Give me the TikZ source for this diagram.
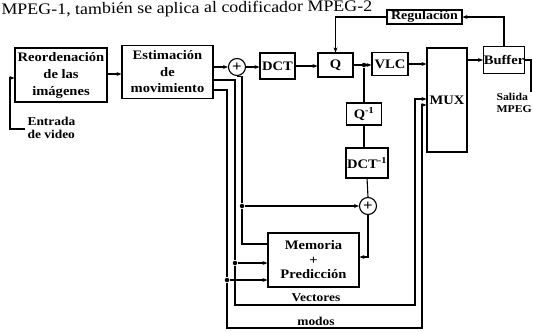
\documentclass[tikz,border=0pt]{standalone}
\usepackage{fontspec}
\setmainfont{Liberation Serif}[FakeStretch=1.12]
\usetikzlibrary{arrows.meta,calc}
\begin{document}
\begin{tikzpicture}[x=1pt,y=-1pt,
  line width=1.1pt,
  arr/.style={-{Stealth[length=5pt,width=4pt]}},
  blk/.style={draw, rectangle, inner sep=0pt, align=center, font=\fontsize{13}{15}\selectfont\bfseries},
  sumnode/.style={draw, circle, minimum size=17pt, inner sep=0pt, font=\fontsize{15}{15}\selectfont\bfseries},
  dotnode/.style={circle, fill, inner sep=0pt, minimum size=4.5pt},
  lbl/.style={inner sep=0pt, font=\fontsize{12}{12}\selectfont\bfseries},
  sidelbl/.style={inner sep=0pt, align=left, font=\fontsize{12}{12.5}\selectfont\bfseries}
]
\useasboundingbox (0,0) rectangle (533,332);

% header text of the scanned page
\node[anchor=base west, inner sep=0pt, rotate=0.6, font=\fontsize{16}{16}\selectfont] (head) at (1,15) {MPEG-1, también se aplica al codificador MPEG-2};

% blocks
\node[blk, minimum width=92, minimum height=54, font=\fontsize{13}{17}\selectfont\bfseries] (reord) at (61,75) {Reordenación\\de las\\imágenes};
\node[blk, minimum width=91, minimum height=53, font=\fontsize{13}{16.5}\selectfont\bfseries] (estim) at (167.5,72) {Estimación\\de\\movimiento};
\node[sumnode] (add1) at (237,67) {+};
\node[blk, minimum width=35, minimum height=26] (dct) at (277.5,66) {DCT};
\node[blk, minimum width=35, minimum height=24] (q) at (335.5,65) {Q};
\node[blk, minimum width=36, minimum height=23] (vlc) at (390,64) {VLC};
\node[blk, minimum width=35, minimum height=22] (qinv) at (364,114) {Q\textsuperscript{-1}};
\node[blk, minimum width=42, minimum height=30] (dctinv) at (367,163) {DCT\textsuperscript{-1}};
\node[sumnode] (add2) at (368,206) {+};
\node[blk, minimum width=91, minimum height=54, font=\fontsize{13}{14.5}\selectfont\bfseries] (mem) at (313.5,260) {Memoria\\+\\Predicción};
\node[blk, minimum width=40, minimum height=104] (mux) at (447,100) {MUX};
\node[blk, minimum width=41, minimum height=27] (buf) at (504,60) {Buffer};
\node[blk, minimum width=75, minimum height=14, font=\fontsize{12.5}{13}\selectfont\bfseries] (reg) at (424.5,17) {Regulación};

% labels
\node[sidelbl, anchor=north west] (entrada) at (27,117) {Entrada\\de video};
\node[sidelbl, anchor=north west, font=\fontsize{10.5}{11.5}\selectfont\bfseries] (salida) at (496,93) {Salida\\MPEG};
\node[lbl] (vect) at (316,298) {Vectores};
\node[lbl] (modos) at (316,321) {modos};

% junction dots and helper coordinates
\node[dotnode] (jq) at (qinv.north |- q) {};
\node[dotnode] (j3) at (242,206) {};
\node[dotnode] (j2) at (235,263) {};
\node[dotnode] (j1) at (227,280) {};
\coordinate (inA) at (25,129);
\coordinate (inB) at (10,129);
\coordinate (inC) at (10,78);
\coordinate (outA) at (531,60);
\coordinate (outB) at (531,92);
\coordinate (v1) at (415,305);
\coordinate (m1) at (422,328);

% input
\draw[arr] (inA) -- (inB) -- (inC) -- (inC -| reord.west);
% main forward path
\draw[arr] (reord.east |- 0,74) -- (estim.west |- 0,74);
\draw[arr] (estim.east |- add1) -- (add1.west);
\draw[arr] (add1.east) -- (add1.east -| dct.west);
\draw[arr] (dct.east |- 0,66) -- (q.west |- 0,66);
\draw[arr] (q.east |- jq) -- (vlc.west |- jq);
\draw[arr] (vlc.east) -- (vlc.east -| mux.west);
\draw[arr] (mux.east |- buf) -- (buf.west);
\draw (buf.east) -- (outA) -- (outB);
% rate control
\draw[arr] (buf.north) |- (reg.east);
\draw[arr] (reg.west) -| (q.north);
% local decoder
\draw (jq) -- (qinv.north);
\draw (qinv.south) -- (qinv.south |- dctinv.north);
\draw (dctinv.south |- 0,178) -- (add2.north);
\draw[arr] (add2.south) -- (add2.south |- 0,257) -- (mem.east |- 0,257);
% prediction out of memory
\draw (mem.west |- 0,244) -- (j3 |- 0,244) -- (j3) -- (j3 |- add1.south) -- (add1.south);
\draw[arr] (j3) -- (add2.west);
% motion vectors
\draw (estim.east |- 0,80) -- (j2 |- 0,80) -- (j2);
\draw[arr] (j2) -- (j2 -| mem.west);
\draw[arr] (j2) -- (j2 |- v1) -- (v1) -- (v1 |- 0,99) -- (mux.west |- 0,99);
% modes
\draw (estim.east |- 0,90) -- (j1 |- 0,90) -- (j1);
\draw[arr] (j1) -- (j1 -| mem.west);
\draw[arr] (j1) -- (j1 |- m1) -- (m1) -- (m1 |- 0,105) -- (mux.west |- 0,105);
\end{tikzpicture}
\end{document}
